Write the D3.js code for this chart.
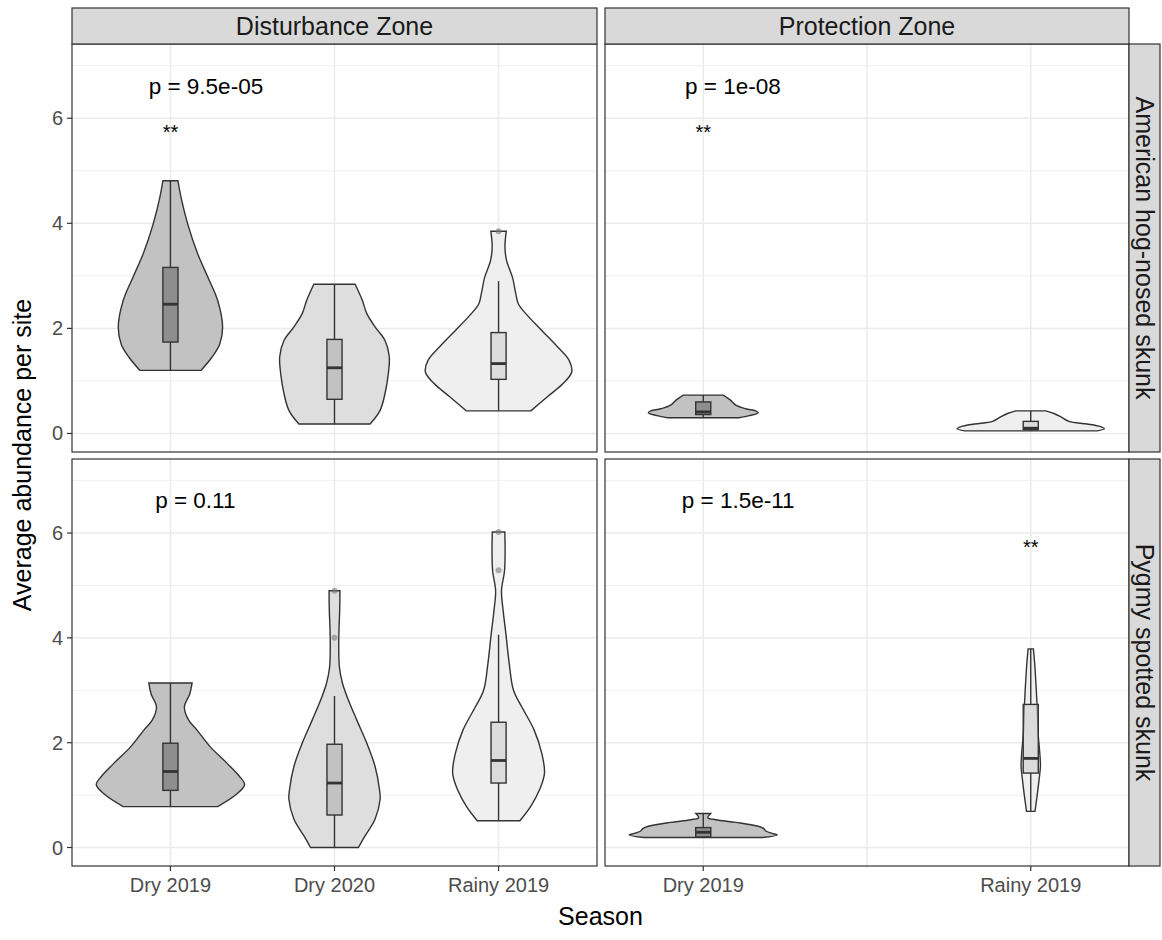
<!DOCTYPE html>
<html>
<head>
<meta charset="utf-8">
<script src="https://cdn.jsdelivr.net/npm/d3@7"></script>
<style>
body { margin: 0; background: #fff; }
text { font-family: "Liberation Sans", Arial, sans-serif; }
</style>
</head>
<body>
<div id="chart"></div>
<script>
//facet labels and categories
var zones = ["Disturbance Zone", "Protection Zone"];
var species = ["American hog-nosed skunk", "Pygmy spotted skunk"];
var seasons = ["Dry 2019", "Dry 2020", "Rainy 2019"];
//seasons that get a tick label in each zone
var zoneSeasons = [["Dry 2019", "Dry 2020", "Rainy 2019"], ["Dry 2019", "Rainy 2019"]];
var yTicks = [0, 2, 4, 6];
var yMinor = [1, 3, 5, 7];
var pText = [["p = 9.5e-05", "p = 1e-08"], ["p = 0.11", "p = 1.5e-11"]];
var pY = 6.62;
//significance stars: [species row, zone col, season, y]
var stars = [[0, 0, "Dry 2019", 5.6], [0, 1, "Dry 2019", 5.6], [1, 1, "Rainy 2019", 5.6]];

//violin outlines, bottom to top: [abundance, half width in category steps]
var hogDistDry19 = [[1.20,0.186],[1.45,0.253],[1.70,0.300],[2.02,0.318],[2.53,0.288],[2.97,0.229],[3.42,0.166],[3.99,0.105],[4.49,0.065],[4.81,0.046]];
var hogDistDry20 = [[0.18,0.217],[0.44,0.278],[0.76,0.308],[1.14,0.328],[1.46,0.334],[1.77,0.308],[2.03,0.247],[2.28,0.197],[2.53,0.170],[2.84,0.126]];
var hogDistRainy19 = [[0.43,0.197],[0.70,0.298],[0.95,0.393],[1.17,0.446],[1.39,0.430],[1.65,0.359],[1.96,0.263],[2.28,0.166],[2.47,0.120],[2.66,0.105],[2.97,0.085],[3.29,0.049],[3.54,0.039],[3.85,0.047]];
var hogProtDry19 = [[0.30,0.219],[0.34,0.280],[0.39,0.336],[0.43,0.320],[0.47,0.260],[0.54,0.199],[0.63,0.168],[0.73,0.122]];
var hogProtRainy19 = [[0.05,0.405],[0.09,0.450],[0.13,0.426],[0.18,0.344],[0.23,0.233],[0.32,0.182],[0.38,0.142],[0.43,0.091]];
var pygDistDry19 = [[0.78,0.288],[1.01,0.400],[1.20,0.452],[1.36,0.420],[1.61,0.344],[1.92,0.243],[2.24,0.162],[2.43,0.111],[2.68,0.085],[2.93,0.118],[3.14,0.132]];
var pygDistDry20 = [[0.00,0.146],[0.22,0.186],[0.54,0.247],[0.92,0.278],[1.11,0.274],[1.55,0.247],[1.99,0.197],[2.43,0.136],[2.81,0.085],[3.13,0.049],[3.44,0.030],[3.95,0.026],[4.58,0.032],[4.90,0.033]];
var pygDistRainy19 = [[0.51,0.130],[0.79,0.197],[1.11,0.251],[1.42,0.280],[1.80,0.263],[2.24,0.217],[2.68,0.142],[3.00,0.091],[3.51,0.065],[4.07,0.045],[4.52,0.028],[4.90,0.018],[5.27,0.036],[5.65,0.040],[6.02,0.038]];
var pygProtDry19 = [[0.19,0.360],[0.24,0.452],[0.27,0.420],[0.32,0.380],[0.36,0.370],[0.41,0.330],[0.48,0.199],[0.53,0.077],[0.57,0.028],[0.65,0.045]];
var pygProtRainy19 = [[0.69,0.026],[0.99,0.039],[1.30,0.051],[1.55,0.059],[1.81,0.055],[2.18,0.045],[2.56,0.041],[3.00,0.034],[3.51,0.024],[3.79,0.016]];

//boxplot stats: [lower whisker, q1, median, q3, upper whisker]
var violins = [
	{row: 0, col: 0, season: "Dry 2019", shape: hogDistDry19, box: [1.20, 1.74, 2.46, 3.16, 4.81], out: []},
	{row: 0, col: 0, season: "Dry 2020", shape: hogDistDry20, box: [0.18, 0.65, 1.25, 1.79, 2.84], out: []},
	{row: 0, col: 0, season: "Rainy 2019", shape: hogDistRainy19, box: [0.43, 1.03, 1.33, 1.92, 2.90], out: [3.85]},
	{row: 0, col: 1, season: "Dry 2019", shape: hogProtDry19, box: [0.30, 0.36, 0.41, 0.60, 0.73], out: []},
	{row: 0, col: 1, season: "Rainy 2019", shape: hogProtRainy19, box: [0.05, 0.07, 0.10, 0.23, 0.43], out: []},
	{row: 1, col: 0, season: "Dry 2019", shape: pygDistDry19, box: [0.78, 1.09, 1.45, 1.99, 3.14], out: []},
	{row: 1, col: 0, season: "Dry 2020", shape: pygDistDry20, box: [0.00, 0.62, 1.23, 1.97, 2.89], out: [4.0, 4.9]},
	{row: 1, col: 0, season: "Rainy 2019", shape: pygDistRainy19, box: [0.51, 1.23, 1.66, 2.39, 4.06], out: [5.29, 6.02]},
	{row: 1, col: 1, season: "Dry 2019", shape: pygProtDry19, box: [0.19, 0.20, 0.29, 0.38, 0.65], out: []},
	{row: 1, col: 1, season: "Rainy 2019", shape: pygProtRainy19, box: [0.69, 1.42, 1.70, 2.73, 3.79], out: []}
];

var violinFill = {"Dry 2019": "#c2c2c2", "Dry 2020": "#dedede", "Rainy 2019": "#efefef"};
var boxFill = {"Dry 2019": "#595959", "Dry 2020": "#a6a6a6", "Rainy 2019": "#c8c8c8"};

//layout
var W = 1162, H = 940;
var colX = [[72, 597], [605, 1129]];
var rowY = [[44, 452], [459, 866]];
var dark = "#333333";

var svg = d3.select("#chart").append("svg")
	.attr("width", W)
	.attr("height", H);

svg.append("rect").attr("width", W).attr("height", H).attr("fill", "white");

var yScale = function(r){
	return d3.scaleLinear().domain([-0.353, 7.413]).range([rowY[r][1], rowY[r][0]]);
};
var xScale = function(c){
	return d3.scalePoint().domain(seasons).range(colX[c]).padding(0.6);
};

species.forEach(function(sp, r){
	zones.forEach(function(z, c){
		var x = xScale(c);
		var y = yScale(r);
		var g = svg.append("g");

		//grid
		g.selectAll(null).data(yMinor).enter().append("line")
			.attr("x1", colX[c][0]).attr("x2", colX[c][1])
			.attr("y1", function(d){ return y(d); })
			.attr("y2", function(d){ return y(d); })
			.attr("stroke", "#f0f0f0").attr("stroke-width", 1);
		g.selectAll(null).data(yTicks).enter().append("line")
			.attr("x1", colX[c][0]).attr("x2", colX[c][1])
			.attr("y1", function(d){ return y(d); })
			.attr("y2", function(d){ return y(d); })
			.attr("stroke", "#ebebeb").attr("stroke-width", 1.5);
		g.selectAll(null).data(seasons).enter().append("line")
			.attr("x1", function(d){ return x(d); })
			.attr("x2", function(d){ return x(d); })
			.attr("y1", rowY[r][0]).attr("y2", rowY[r][1])
			.attr("stroke", "#ebebeb").attr("stroke-width", 1.5);

		//violins and boxes
		var step = x.step();
		violins.filter(function(v){ return v.row == r && v.col == c; }).forEach(function(v){
			var xc = x(v.season);
			var area = d3.area()
				.x0(function(d){ return xc - d[1]*step; })
				.x1(function(d){ return xc + d[1]*step; })
				.y(function(d){ return y(d[0]); })
				.curve(d3.curveCatmullRom);
			g.append("path")
				.attr("d", area(v.shape))
				.attr("fill", violinFill[v.season])
				.attr("stroke", dark)
				.attr("stroke-width", 1.4);

			var bw = 0.046*step;
			var b = v.box;
			g.append("line")
				.attr("x1", xc).attr("x2", xc)
				.attr("y1", y(b[0])).attr("y2", y(b[1]))
				.attr("stroke", dark).attr("stroke-width", 1.4);
			g.append("line")
				.attr("x1", xc).attr("x2", xc)
				.attr("y1", y(b[3])).attr("y2", y(b[4]))
				.attr("stroke", dark).attr("stroke-width", 1.4);
			g.append("rect")
				.attr("x", xc - bw).attr("width", 2*bw)
				.attr("y", y(b[3])).attr("height", y(b[1]) - y(b[3]))
				.attr("fill", boxFill[v.season]).attr("fill-opacity", 0.5)
				.attr("stroke", dark).attr("stroke-width", 1.4);
			g.append("line")
				.attr("x1", xc - bw).attr("x2", xc + bw)
				.attr("y1", y(b[2])).attr("y2", y(b[2]))
				.attr("stroke", dark).attr("stroke-width", 2.8);
			g.selectAll(null).data(v.out).enter().append("circle")
				.attr("cx", xc)
				.attr("cy", function(d){ return y(d); })
				.attr("r", 3)
				.attr("fill", "#7a7a7a").attr("fill-opacity", 0.6);
		});

		//p value label (sits a little left of the first category)
		var pt = g.append("text")
			.attr("y", y(pY)).attr("dy", "0.35em")
			.attr("font-size", 22.5).attr("fill", "black")
			.text(pText[r][c]);
		var len = pt.node().getComputedTextLength();
		pt.attr("x", x("Dry 2019") - 0.19*len);

		//stars
		stars.filter(function(s){ return s[0] == r && s[1] == c; }).forEach(function(s){
			g.append("text")
				.attr("x", x(s[2])).attr("y", y(s[3]))
				.attr("text-anchor", "middle")
				.attr("font-size", 20).attr("fill", "black")
				.text("**");
		});

		//panel border
		g.append("rect")
			.attr("x", colX[c][0]).attr("y", rowY[r][0])
			.attr("width", colX[c][1] - colX[c][0]).attr("height", rowY[r][1] - rowY[r][0])
			.attr("fill", "none").attr("stroke", dark).attr("stroke-width", 1.2);

		//y axis on left column
		if (c == 0){
			g.selectAll(null).data(yTicks).enter().append("line")
				.attr("x1", colX[c][0] - 5).attr("x2", colX[c][0])
				.attr("y1", function(d){ return y(d); })
				.attr("y2", function(d){ return y(d); })
				.attr("stroke", dark).attr("stroke-width", 1.2);
			g.selectAll(null).data(yTicks).enter().append("text")
				.attr("x", colX[c][0] - 9)
				.attr("y", function(d){ return y(d); })
				.attr("dy", "0.35em")
				.attr("text-anchor", "end")
				.attr("font-size", 20).attr("fill", "#4d4d4d")
				.text(function(d){ return d; });
		}

		//x axis on bottom row
		if (r == 1){
			g.selectAll(null).data(zoneSeasons[c]).enter().append("line")
				.attr("x1", function(d){ return x(d); })
				.attr("x2", function(d){ return x(d); })
				.attr("y1", rowY[r][1]).attr("y2", rowY[r][1] + 5)
				.attr("stroke", dark).attr("stroke-width", 1.2);
			g.selectAll(null).data(zoneSeasons[c]).enter().append("text")
				.attr("x", function(d){ return x(d); })
				.attr("y", rowY[r][1] + 26)
				.attr("text-anchor", "middle")
				.attr("font-size", 20).attr("fill", "#4d4d4d")
				.text(function(d){ return d; });
		}

		//top strips
		if (r == 0){
			svg.append("rect")
				.attr("x", colX[c][0]).attr("y", 8)
				.attr("width", colX[c][1] - colX[c][0]).attr("height", rowY[0][0] - 8)
				.attr("fill", "#d9d9d9").attr("stroke", dark).attr("stroke-width", 1.2);
			svg.append("text")
				.attr("x", (colX[c][0] + colX[c][1])/2).attr("y", (8 + rowY[0][0])/2)
				.attr("dy", "0.35em")
				.attr("text-anchor", "middle")
				.attr("font-size", 25).attr("fill", "#1a1a1a")
				.text(z);
		}

		//right strips
		if (c == 1){
			svg.append("rect")
				.attr("x", colX[1][1]).attr("y", rowY[r][0])
				.attr("width", 31).attr("height", rowY[r][1] - rowY[r][0])
				.attr("fill", "#d9d9d9").attr("stroke", dark).attr("stroke-width", 1.2);
			var cx = colX[1][1] + 15.5, cy = (rowY[r][0] + rowY[r][1])/2;
			svg.append("text")
				.attr("transform", "translate(" + cx + "," + cy + ") rotate(90)")
				.attr("dy", "0.35em")
				.attr("text-anchor", "middle")
				.attr("font-size", 25).attr("fill", "#1a1a1a")
				.text(sp);
		}
	});
});

//axis titles
svg.append("text")
	.attr("x", (colX[0][0] + colX[1][1])/2).attr("y", 925)
	.attr("text-anchor", "middle")
	.attr("font-size", 25).attr("fill", "black")
	.text("Season");
svg.append("text")
	.attr("transform", "translate(22," + (rowY[0][0] + rowY[1][1])/2 + ") rotate(-90)")
	.attr("dy", "0.35em")
	.attr("text-anchor", "middle")
	.attr("font-size", 25).attr("fill", "black")
	.text("Average abundance per site");
</script>
</body>
</html>
